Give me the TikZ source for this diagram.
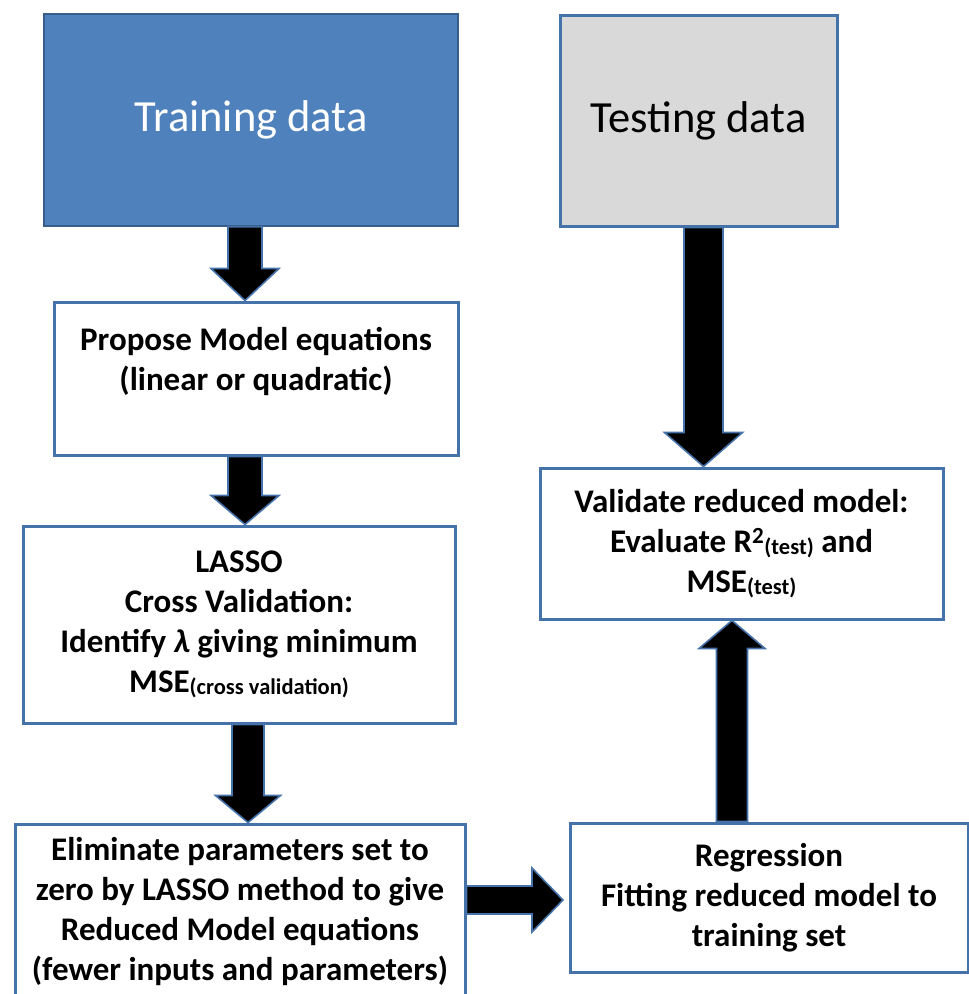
\documentclass[tikz,border=0pt]{standalone}
\usepackage{fontspec}
\setmainfont{Carlito}
\usetikzlibrary{calc}

\definecolor{trainblue}{HTML}{4F81BD}
\definecolor{trainline}{HTML}{385D8A}
\definecolor{boxline}{HTML}{4672AA}
\definecolor{testgray}{HTML}{D9D9D9}

\tikzset{
    databox/.style={draw=trainline, line width=1.5pt, inner sep=0pt, font=\fontsize{44.5}{52}\selectfont},
    stepbox/.style={draw=boxline, line width=3pt, fill=white, inner sep=0pt, align=center, font=\fontsize{33}{40}\selectfont\bfseries},
    arrowbody/.style={draw=boxline, fill=black, line width=1.6pt, line join=miter}
}

% small bracketed index after MSE and R^2
\newcommand{\lowtext}[1]{\raisebox{-2pt}{\fontsize{22.5}{22.5}\selectfont #1}}

% block arrow: half shaft, half head, head length, from, to
\newcommand{\fatarrow}[5]{%
    \filldraw[arrowbody]
        ($(#4)!#1!90:(#5)$) -- ($(#5)!#3!(#4)!#1!90:(#5)$)
        -- ($(#5)!#3!(#4)!#2!90:(#5)$) -- (#5)
        -- ($(#5)!#3!(#4)!#2!-90:(#5)$) -- ($(#5)!#3!(#4)!#1!-90:(#5)$)
        -- ($(#4)!#1!-90:(#5)$) -- cycle;}

\begin{document}
\begin{tikzpicture}[x=1pt,y=-1pt]
    \useasboundingbox (0,0) rectangle (969,994);
    \fill[white] (0,0) rectangle (969,994);

    % data sets
    \node[databox, fill=trainblue, text=white, minimum width=414pt, minimum height=212pt] (train) at (251,120) {Training data};
    \node[databox, draw=boxline, line width=3pt, fill=testgray, minimum width=277pt, minimum height=211pt] (test) at (698.5,120.5) {Testing data};

    % left column
    \node[stepbox, minimum width=404pt, minimum height=153pt] (propose) at (256,378.5) {Propose Model equations\\(linear or quadratic)\\~};
    \node[stepbox, minimum width=432pt, minimum height=197pt] (lasso) at (239,624.5) {LASSO\\Cross Validation:\\Identify \textit{λ} giving minimum\\MSE\lowtext{(cross validation)}};
    \node[stepbox, minimum width=450pt, minimum height=176pt] (elim) at (240,912) {Eliminate parameters set to\\zero by LASSO method to give\\Reduced Model equations\\(fewer inputs and parameters)};

    % right column
    \node[stepbox, minimum width=403pt, minimum height=151pt] (valid) at (741.5,543.5) {Validate reduced model:\\Evaluate R\textsuperscript{2}\lowtext{(test)} and\\MSE\lowtext{(test)}};
    \node[stepbox, minimum width=398pt, minimum height=149pt] (regr) at (769,897.5) {Regression\\Fitting reduced model to\\training set};

    % arrow lanes
    \coordinate (leftcol) at (245,0);
    \coordinate (midcol) at (248,0);
    \coordinate (testcol) at (703.5,0);
    \coordinate (upcol) at (732,0);
    \coordinate (regrin) at (563,900);

    \fatarrow{17pt}{34pt}{32pt}{train.south -| leftcol}{propose.north -| leftcol}
    \fatarrow{17pt}{34pt}{29pt}{propose.south -| leftcol}{lasso.north -| leftcol}
    \fatarrow{16pt}{32.5pt}{27pt}{lasso.south -| midcol}{elim.north -| midcol}
    \fatarrow{19.5pt}{39pt}{34pt}{test.south -| testcol}{valid.north -| testcol}
    \fatarrow{15.5pt}{33pt}{28pt}{regr.north -| upcol}{valid.south -| upcol}
    \fatarrow{14pt}{32pt}{31pt}{elim.east |- regrin}{regrin}
\end{tikzpicture}
\end{document}
